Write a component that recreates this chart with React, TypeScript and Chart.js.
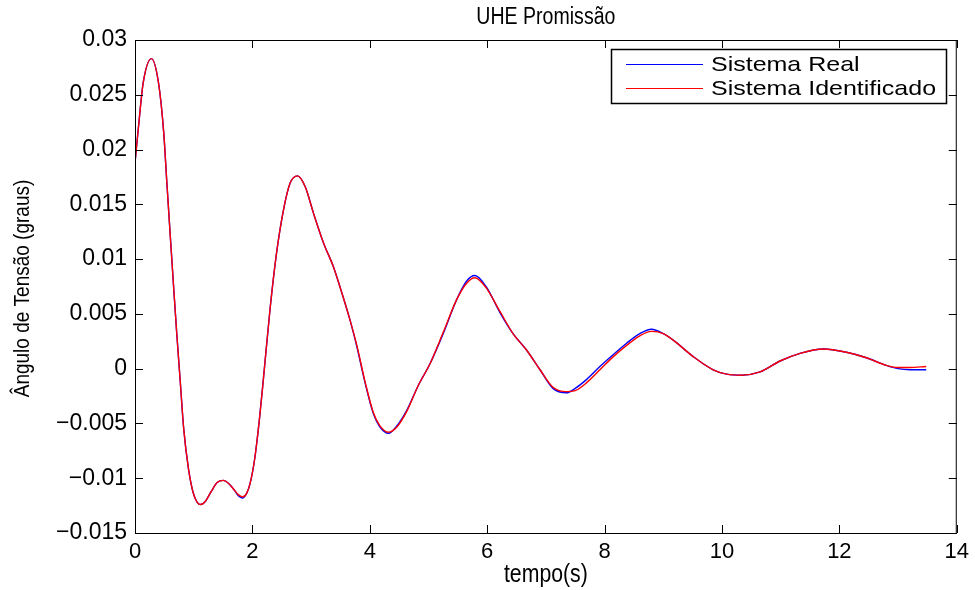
import React, { useEffect, useRef } from "react";
import { Chart, registerables } from "chart.js";

Chart.register(...registerables);

const chartTitle = "UHE Promissão";
const xAxisTitle = "tempo(s)";
const yAxisTitle = "Ângulo de Tensão (graus)";
const seriesNames = ["Sistema Real", "Sistema Identificado"];
const seriesColors = ["#0000ff", "#ff0000"];

const xTicks = [0, 2, 4, 6, 8, 10, 12, 14];
const yTicks = [-0.015, -0.01, -0.005, 0, 0.005, 0.01, 0.015, 0.02, 0.025, 0.03];
const yTickLabels = ["\u22120.015", "\u22120.01", "\u22120.005", "0", "0.005", "0.01", "0.015", "0.02", "0.025", "0.03"];

const time = [
  0, 0.06, 0.14, 0.28, 0.40, 0.49, 0.54, 0.60, 0.66, 0.71, 0.77, 0.83, 0.91, 0.99, 1.06, 1.12, 1.20, 1.30, 1.40, 1.50,
  1.60, 1.68, 1.76, 1.83, 1.90, 1.96, 2.04, 2.12, 2.19, 2.30, 2.41, 2.53, 2.64, 2.77, 2.90, 3.04, 3.21, 3.38, 3.49, 3.66,
  3.78, 3.92, 4.06, 4.17, 4.32, 4.45, 4.63, 4.82, 5.03, 5.25, 5.48, 5.65, 5.79, 5.98, 6.22, 6.44, 6.67, 6.90, 7.12, 7.35,
  7.50, 7.69, 7.92, 8.15, 8.37, 8.60, 8.80, 9.00, 9.17, 9.51, 9.85, 10.08, 10.33, 10.65, 10.99, 11.33, 11.73, 12.12, 12.46, 12.80,
  13.00, 13.20, 13.48,
];

const sistemaReal = [
  0.0188, 0.0221, 0.0261, 0.0283, 0.0261, 0.0215, 0.0172, 0.0122, 0.0073, 0.0033, -0.0011, -0.0055, -0.0091, -0.0113, -0.0122, -0.0124, -0.0121, -0.0112, -0.0104, -0.0102,
  -0.0105, -0.0110, -0.0116, -0.0118, -0.0114, -0.0105, -0.0082, -0.0046, -0.0008, 0.0054, 0.0105, 0.0145, 0.0169, 0.0176, 0.0166, 0.0142, 0.0115, 0.0093, 0.0075, 0.0045,
  0.0020, -0.0013, -0.0041, -0.0053, -0.0059, -0.0053, -0.0038, -0.0016, 0.0005, 0.0032, 0.0063, 0.0080, 0.0085, 0.0075, 0.0051, 0.0032, 0.0017, -0.0001, -0.0018, -0.0022,
  -0.0018, -0.0010, 0.0002, 0.0013, 0.0023, 0.0032, 0.0036, 0.0032, 0.0026, 0.0011, -0.0001, -0.0005, -0.0006, -0.0003, 0.0007, 0.0014, 0.0018, 0.0015, 0.0010, 0.0003,
  0.0000, -0.0001, -0.0001,
];

const sistemaIdentificado = [
  0.0188, 0.0221, 0.0261, 0.0283, 0.0261, 0.0215, 0.0172, 0.0122, 0.0073, 0.0033, -0.0011, -0.0055, -0.0091, -0.0113, -0.0122, -0.0124, -0.0121, -0.0112, -0.0104, -0.0102,
  -0.0105, -0.0110, -0.0115, -0.0117, -0.0114, -0.0105, -0.0082, -0.0046, -0.0008, 0.0054, 0.0105, 0.0145, 0.0169, 0.0176, 0.0166, 0.0142, 0.0115, 0.0093, 0.0075, 0.0045,
  0.0021, -0.0012, -0.0040, -0.0052, -0.0058, -0.0054, -0.0039, -0.0016, 0.0005, 0.0033, 0.0063, 0.0078, 0.0083, 0.0074, 0.0052, 0.0032, 0.0017, -0.0001, -0.0017, -0.0021,
  -0.0020, -0.0013, -0.0001, 0.0011, 0.0021, 0.0030, 0.0034, 0.0032, 0.0026, 0.0011, -0.0001, -0.0005, -0.0006, -0.0003, 0.0007, 0.0014, 0.0018, 0.0015, 0.0010, 0.0003,
  0.0001, 0.0001, 0.0002,
];

const FONT = "'Liberation Sans', Arial, Helvetica, sans-serif";

const matlabPlugin = {
  id: "matlabFrame",
  afterDraw(chart: any) {
    const { ctx, chartArea } = chart;
    const { left, right, top, bottom } = chartArea;
    const xs = chart.scales.x;
    const ys = chart.scales.y;
    ctx.save();
    ctx.strokeStyle = "#000";
    ctx.lineWidth = 1;
    ctx.strokeRect(left + 0.5, top + 0.5, right - left - 1, bottom - top);
    const tl = 8;
    ctx.beginPath();
    xTicks.forEach((v) => {
      const px = Math.round(xs.getPixelForValue(v)) + 0.5;
      ctx.moveTo(px, bottom);
      ctx.lineTo(px, bottom - tl);
      ctx.moveTo(px, top);
      ctx.lineTo(px, top + tl);
    });
    yTicks.forEach((v) => {
      const py = Math.round(ys.getPixelForValue(v)) + 0.5;
      ctx.moveTo(left, py);
      ctx.lineTo(left + tl, py);
      ctx.moveTo(right, py);
      ctx.lineTo(right - tl, py);
    });
    ctx.stroke();

    ctx.fillStyle = "#000";
    ctx.textAlign = "center";
    ctx.textBaseline = "middle";
    ctx.save();
    ctx.translate((left + right) / 2, 18);
    ctx.scale(0.85, 1);
    ctx.font = `23px ${FONT}`;
    ctx.fillText(chartTitle, 0, 0);
    ctx.restore();
    ctx.save();
    ctx.translate((left + right) / 2, 575);
    ctx.scale(0.85, 1);
    ctx.font = `25px ${FONT}`;
    ctx.fillText(xAxisTitle, 0, 0);
    ctx.restore();
    ctx.save();
    ctx.translate(23, (top + bottom) / 2 + 2);
    ctx.scale(1.15, 1);
    ctx.rotate(-Math.PI / 2);
    ctx.font = `19px ${FONT}`;
    ctx.fillText(yAxisTitle, 0, 0);
    ctx.restore();

    // legend
    const lx = 611, ly = 49, lw = 335, lh = 54;
    ctx.fillStyle = "#fff";
    ctx.fillRect(lx, ly, lw, lh);
    ctx.strokeStyle = "#000";
    ctx.lineWidth = 1.5;
    ctx.strokeRect(lx + 0.5, ly + 0.5, lw, lh);
    ctx.textAlign = "left";
    seriesNames.forEach((name, i) => {
      const yy = 64 + i * 24;
      ctx.strokeStyle = seriesColors[i];
      ctx.lineWidth = 1;
      ctx.beginPath();
      ctx.moveTo(626, yy + 0.5);
      ctx.lineTo(703, yy + 0.5);
      ctx.stroke();
      ctx.save();
      ctx.translate(711, yy + 1);
      ctx.scale(1.19, 1);
      ctx.fillStyle = "#000";
      ctx.font = `21px ${FONT}`;
      ctx.fillText(name, 0, 0);
      ctx.restore();
    });
    ctx.restore();
  },
};

export default function App() {
  const ref = useRef<HTMLCanvasElement | null>(null);
  useEffect(() => {
    if (!ref.current) return;
    const chart = new Chart(ref.current, {
      type: "line",
      data: {
        datasets: [
          {
            label: seriesNames[0],
            data: time.map((t, i) => ({ x: t, y: sistemaReal[i] })),
            borderColor: seriesColors[0],
            borderWidth: 1.4,
            pointRadius: 0,
            cubicInterpolationMode: "monotone",
            fill: false,
            order: 2,
          },
          {
            label: seriesNames[1],
            data: time.map((t, i) => ({ x: t, y: sistemaIdentificado[i] })),
            borderColor: seriesColors[1],
            borderWidth: 1.4,
            pointRadius: 0,
            cubicInterpolationMode: "monotone",
            fill: false,
            order: 1,
          },
        ],
      },
      options: {
        animation: false,
        responsive: false,
        devicePixelRatio: 1,
        layout: { padding: { top: 40, right: 18, left: 0, bottom: 0 } },
        plugins: { legend: { display: false }, title: { display: false }, tooltip: { enabled: false } },
        scales: {
          x: {
            type: "linear",
            min: 0,
            max: 14,
            afterBuildTicks: (s: any) => {
              s.ticks = xTicks.map((v) => ({ value: v }));
            },
            afterFit: (s: any) => {
              s.height = 57;
            },
            grid: { display: false, drawTicks: false },
            border: { display: false },
            ticks: {
              color: "#000",
              padding: 6,
              maxRotation: 0,
              autoSkip: false,
              font: { family: FONT, size: 22 },
              callback: (v: any) => String(v),
            },
          },
          y: {
            type: "linear",
            min: -0.015,
            max: 0.03,
            afterBuildTicks: (s: any) => {
              s.ticks = yTicks.map((v) => ({ value: v }));
            },
            afterFit: (s: any) => {
              s.width = 135;
            },
            grid: { display: false, drawTicks: false },
            border: { display: false },
            ticks: {
              color: "#000",
              padding: 8,
              autoSkip: false,
              font: { family: FONT, size: 23 },
              callback: (v: any, i: number) => yTickLabels[i],
            },
          },
        },
      },
      plugins: [matlabPlugin],
    } as any);
    return () => chart.destroy();
  }, []);
  return (
    <div style={{ position: "absolute", left: 0, top: 0, width: 975, height: 590, background: "#fff" }}>
      <canvas ref={ref} width={975} height={590} style={{ display: "block" }} />
    </div>
  );
}
